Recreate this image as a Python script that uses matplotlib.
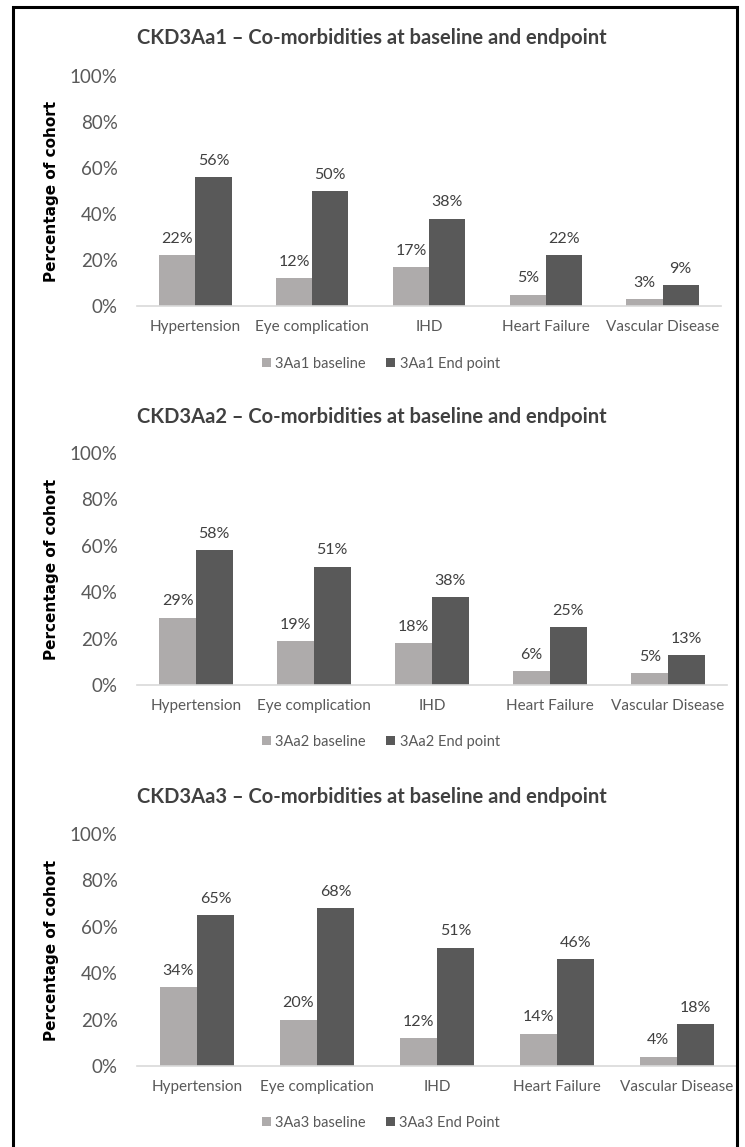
import numpy as np
import matplotlib
matplotlib.use("Agg")
import matplotlib.pyplot as plt
from matplotlib.patches import Rectangle

categories = ["Hypertension", "Eye complication", "IHD", "Heart Failure", "Vascular Disease"]

titles = [
    "CKD3Aa1 \u2013 Co-morbidities at baseline and endpoint",
    "CKD3Aa2 \u2013 Co-morbidities at baseline and endpoint",
    "CKD3Aa3 \u2013 Co-morbidities at baseline and endpoint",
]
baseline_names = ["3Aa1 baseline", "3Aa2 baseline", "3Aa3 baseline"]
endpoint_names = ["3Aa1 End point", "3Aa2 End point", "3Aa3 End Point"]

aa1_baseline = [22, 12, 17, 5, 3]
aa1_endpoint = [56, 50, 38, 22, 9]
aa2_baseline = [29, 19, 18, 6, 5]
aa2_endpoint = [58, 51, 38, 25, 13]
aa3_baseline = [34, 20, 12, 14, 4]
aa3_endpoint = [65, 68, 51, 46, 18]

yticks = [0, 20, 40, 60, 80, 100]

W, H = 745, 1147
LIGHT = "#aeabab"
DARK = "#595959"
TEXT = "#595959"

plt.rcParams["font.family"] = ["Lato", "DejaVu Sans"]

fig = plt.figure(figsize=(W / 100, H / 100), dpi=100)

# frame around the whole figure (bottom edge falls outside the image)
fig.patches.append(Rectangle((13 / W, -0.01), (737 - 13) / W, 1.01 - 7 / H,
                             transform=fig.transFigure, fill=False,
                             edgecolor="black", linewidth=2.2))

# pixel layout of each panel: title y, 100% y, 0% y, axis right end, legend y
layout = [
    (38, 76, 306, 721, 364),
    (417, 453, 685, 727, 742),
    (797, 834, 1066, 737, 1123),
]
series = [
    (aa1_baseline, aa1_endpoint),
    (aa2_baseline, aa2_endpoint),
    (aa3_baseline, aa3_endpoint),
]

x = np.arange(len(categories))
bw = 0.31

for i, (ty, y100, y0, xr, ly) in enumerate(layout):
    base, end = series[i]
    ax = fig.add_axes([137 / W, 1 - y0 / H, (xr - 137) / W, (y0 - y100) / H])
    b1 = ax.bar(x - bw / 2, base, bw, color=LIGHT, label=baseline_names[i])
    b2 = ax.bar(x + bw / 2, end, bw, color=DARK, label=endpoint_names[i])
    for bars, vals in ((b1, base), (b2, end)):
        for r, v in zip(bars, vals):
            ax.text(r.get_x() + r.get_width() / 2, v + 4, f"{v}%",
                    ha="center", va="bottom", fontsize=11.5, color="#404040")

    ax.set_xlim(-0.5, len(categories) - 0.5)
    ax.set_ylim(0, 100)
    ax.set_yticks(yticks)
    ax.set_yticklabels([f"{t}%" for t in yticks], fontsize=13.5, color=TEXT)
    ax.set_xticks(x)
    ax.set_xticklabels(categories, fontsize=11, color=TEXT)
    ax.tick_params(axis="y", length=0, pad=14)
    ax.tick_params(axis="x", length=0, pad=10)
    for s in ["top", "right", "left"]:
        ax.spines[s].set_visible(False)
    ax.spines["bottom"].set_color("#d9d9d9")
    ax.spines["bottom"].set_linewidth(1.2)

    fig.text(52 / W, 1 - (y0 + y100) / 2 / H, "Percentage of cohort",
             rotation=90, ha="center", va="center", fontsize=11,
             fontweight="bold", family="DejaVu Sans", color="black")
    fig.text(372 / W, 1 - ty / H, titles[i], ha="center", va="center",
             fontsize=14.5, fontweight="bold", color="#404040")

    ax.legend(loc="center", bbox_to_anchor=(381 / W, 1 - ly / H),
              bbox_transform=fig.transFigure, ncol=2, frameon=False,
              fontsize=10.5, labelcolor=TEXT, handlelength=0.6,
              handleheight=0.6, handletextpad=0.3, columnspacing=1.4)

fig.savefig("out.png", dpi=100)
